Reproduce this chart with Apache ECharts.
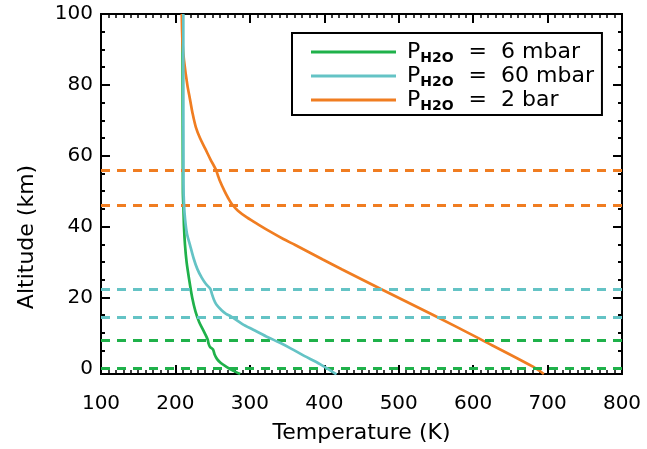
<!DOCTYPE html>
<html>
<head>
<meta charset="utf-8">
<script src="https://cdn.jsdelivr.net/npm/echarts@6/dist/echarts.min.js"></script>
<style>
html, body { margin: 0; padding: 0; background: #fff; }
#chart { width: 647px; height: 449px; }
</style>
</head>
<body>
<div id="chart"></div>
<script>
// legend names (pressure of H2O)
var names = ['6 mbar', '60 mbar', '2 bar'];

// temperature profiles, altitude (km) vs temperature (K)
var greenAlt  = [100, 50, 45, 40, 35, 30, 25, 20, 16, 13, 10.5, 9, 8, 7, 6, 5.3, 4, 2.6, 1.5, 0.5, -0.5, -1.6];
var greenTemp = [209.5, 210, 210.8, 211.5, 212.8, 215, 218.5, 222.5, 227, 232, 238, 241.5, 243.5, 244.5, 246.5, 250.5, 252.5, 256, 261, 268, 276, 287];

var cyanAlt  = [100, 52, 46, 42, 38, 34.8, 31, 28, 25.6, 23.8, 22.4, 21, 19.5, 18, 16.4, 15.4, 14.6, 12.5, 10.9, 9, 7.2, 5.5, 3.5, 1.2, -1.7];
var cyanTemp = [210.6, 210.8, 211.6, 213, 215.5, 219.6, 224.5, 229.5, 235.3, 241, 247, 249, 251.5, 255, 262, 268, 275, 290, 304.6, 322, 340.5, 356, 373, 394.2, 416.4];

var orangeAlt  = [100, 92, 87, 80, 76, 72, 68, 65, 62, 59, 56, 54.5, 53, 50, 48, 46.3, 44.5, 42.6, 40.5, 38.5, 36.5, 34.8, 30.7, 27.9, 22.4, 15.2, 8.3, 0.4, -1.6];
var orangeTemp = [208.5, 209.5, 211.5, 216, 219.5, 223, 227.5, 233, 240, 247, 254.5, 257, 259.5, 266, 271, 276, 284, 296, 312, 328, 345, 361, 398, 424, 476, 545, 609, 681, 695];

// cloud levels (dashed lines)
var greenLevels  = [8, 0];
var cyanLevels   = [22.3, 14.5];
var orangeLevels = [56, 46.1];

// axis ticks
var yLabels = [0, 20, 40, 60, 80, 100];
var yMinor  = [5, 10, 15, 25, 30, 35, 45, 50, 55, 65, 70, 75, 85, 90, 95];

var colors = ['#1fb14a', '#64c3c5', '#f07d21'];
var font = 'DejaVu Sans';

function pairs(t, a) {
    return t.map(function (v, i) { return [v, a[i]]; });
}

function levelLine(levels, color) {
    return {
        silent: true,
        symbol: ['none', 'none'],
        label: { show: false },
        lineStyle: { color: color, type: [9, 7], width: 3 },
        data: levels.map(function (v) { return { yAxis: v }; })
    };
}

function yAx(pos, ticks, len, withLabel) {
    var ax = {
        type: 'value', position: pos, min: -1.6, max: 100,
        splitLine: { show: false },
        axisLine: { show: true, onZero: false, lineStyle: { color: '#000', width: 2 } },
        axisTick: { show: true, inside: true, length: len, customValues: ticks,
                    lineStyle: { color: '#000', width: 2 } },
        axisLabel: { show: false }
    };
    if (withLabel) {
        ax.axisLabel = { show: true, customValues: ticks, color: '#000', fontSize: 20,
                         fontFamily: font, margin: 8, padding: [4, 0, 0, 0] };
        ax.name = 'Altitude (km)';
        ax.nameLocation = 'middle';
        ax.nameGap = 63;
        ax.nameTextStyle = { color: '#000', fontSize: 22, fontFamily: font, padding: [0, 86, 0, 0] };
    }
    return ax;
}

function xAx(pos, withLabel) {
    var ax = {
        type: 'value', position: pos, min: 100, max: 800, interval: 100,
        splitLine: { show: false },
        axisLine: { show: true, onZero: false, lineStyle: { color: '#000', width: 2 } },
        axisTick: { show: true, inside: true, length: 9, lineStyle: { color: '#000', width: 2 } },
        minorTick: { show: true, splitNumber: 10, length: 4, lineStyle: { color: '#000', width: 1.5 } },
        axisLabel: { show: false }
    };
    if (withLabel) {
        ax.axisLabel = { show: true, color: '#000', fontSize: 20, fontFamily: font, margin: 20 };
        ax.name = 'Temperature (K)';
        ax.nameLocation = 'middle';
        ax.nameGap = 48;
        ax.nameTextStyle = { color: '#000', fontSize: 22, fontFamily: font };
    }
    return ax;
}

var chart = echarts.init(document.getElementById('chart'));

var option = {
    animation: false,
    backgroundColor: '#fff',
    grid: { left: 101, right: 25, top: 14, bottom: 68 },
    legend: {
        orient: 'vertical',
        left: 292, top: 33,
        icon: 'rect',
        itemWidth: 85, itemHeight: 3, itemGap: 0,
        padding: [8, 8, 2, 19],
        borderColor: '#000', borderWidth: 2,
        data: names,
        formatter: function (n) {
            return '{p|P}{s|H2O}{t|  =  ' + n + '}';
        },
        textStyle: {
            color: '#000',
            rich: {
                p: { fontSize: 22, fontFamily: font, color: '#000', lineHeight: 20, height: 20,
                     padding: [0, 0, 0, 6] },
                s: { fontSize: 14, fontWeight: 'bold', fontFamily: font, color: '#000',
                     lineHeight: 20, height: 8, padding: [12, 1, 0, 0] },
                t: { fontSize: 22, fontFamily: font, color: '#000', lineHeight: 20, height: 20 }
            }
        }
    },
    xAxis: [xAx('bottom', true), xAx('top', false)],
    yAxis: [
        yAx('left', yLabels, 9, true),
        yAx('left', yMinor, 4, false),
        yAx('right', yLabels, 9, false),
        yAx('right', yMinor, 4, false)
    ],
    series: [
        {
            name: names[0], type: 'line', symbol: 'none', z: 3,
            data: pairs(greenTemp, greenAlt), smooth: 0.3,
            lineStyle: { color: colors[0], width: 2.7 }, itemStyle: { color: colors[0] },
            markLine: levelLine(greenLevels, colors[0])
        },
        {
            name: names[1], type: 'line', symbol: 'none', z: 5,
            data: pairs(cyanTemp, cyanAlt), smooth: 0.3,
            lineStyle: { color: colors[1], width: 2.7 }, itemStyle: { color: colors[1] },
            markLine: levelLine(cyanLevels, colors[1])
        },
        {
            name: names[2], type: 'line', symbol: 'none', z: 4,
            data: pairs(orangeTemp, orangeAlt), smooth: 0.3,
            lineStyle: { color: colors[2], width: 2.7 }, itemStyle: { color: colors[2] },
            markLine: levelLine(orangeLevels, colors[2])
        }
    ]
};

chart.setOption(option);
</script>
</body>
</html>
